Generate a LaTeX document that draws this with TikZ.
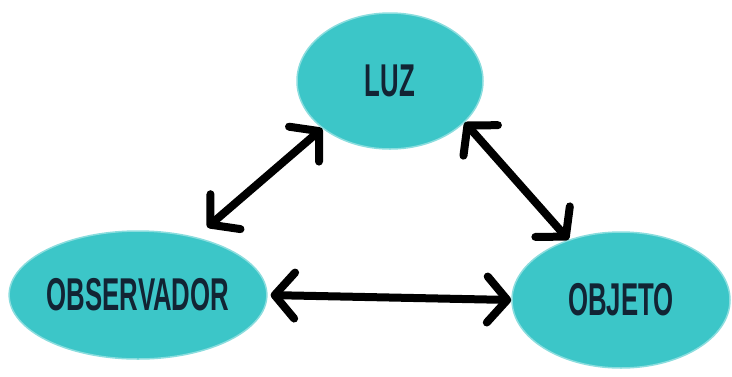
\documentclass[tikz,border=0pt]{standalone}
\usepackage{fontspec}
\newfontfamily\condfont[FakeStretch=0.56]{Liberation Sans}
\usetikzlibrary{arrows.meta,shapes.geometric}
\definecolor{turquesa}{RGB}{60,198,200}
\definecolor{tinta}{RGB}{18,36,52}
\begin{document}
\begin{tikzpicture}[x=1pt,y=-1pt,
  bulle/.style={ellipse,fill=turquesa,draw=turquesa!60!white,line width=1.5pt,
    inner sep=0pt,text=tinta,font=\condfont\bfseries\fontsize{46}{46}\selectfont},
  fleche/.style={line width=8pt,line cap=round,
    {Straight Barb[length=20pt,width=46pt,line cap=round,line join=round]}-{Straight Barb[length=20pt,width=46pt,line cap=round,line join=round]}}]
  \useasboundingbox (0,0) rectangle (732,376);
  % Ellipses
  \node[bulle,minimum width=186pt,minimum height=136pt] (luz) at (390,81) {LUZ};
  \node[bulle,minimum width=246pt,minimum height=128pt] (obs) at (138,295) {OBSERVADOR};
  \node[bulle,minimum width=218pt,minimum height=136pt] (obj) at (621,300) {OBJETO};
  % Flechas dobles
  \draw[fleche,shorten <=15pt] (obs.45) -- (luz.215);
  \draw[fleche] (luz.-29) -- (obj.131);
  \draw[fleche,shorten <=3pt] (obs.east) -- (obj.west);
\end{tikzpicture}
\end{document}
